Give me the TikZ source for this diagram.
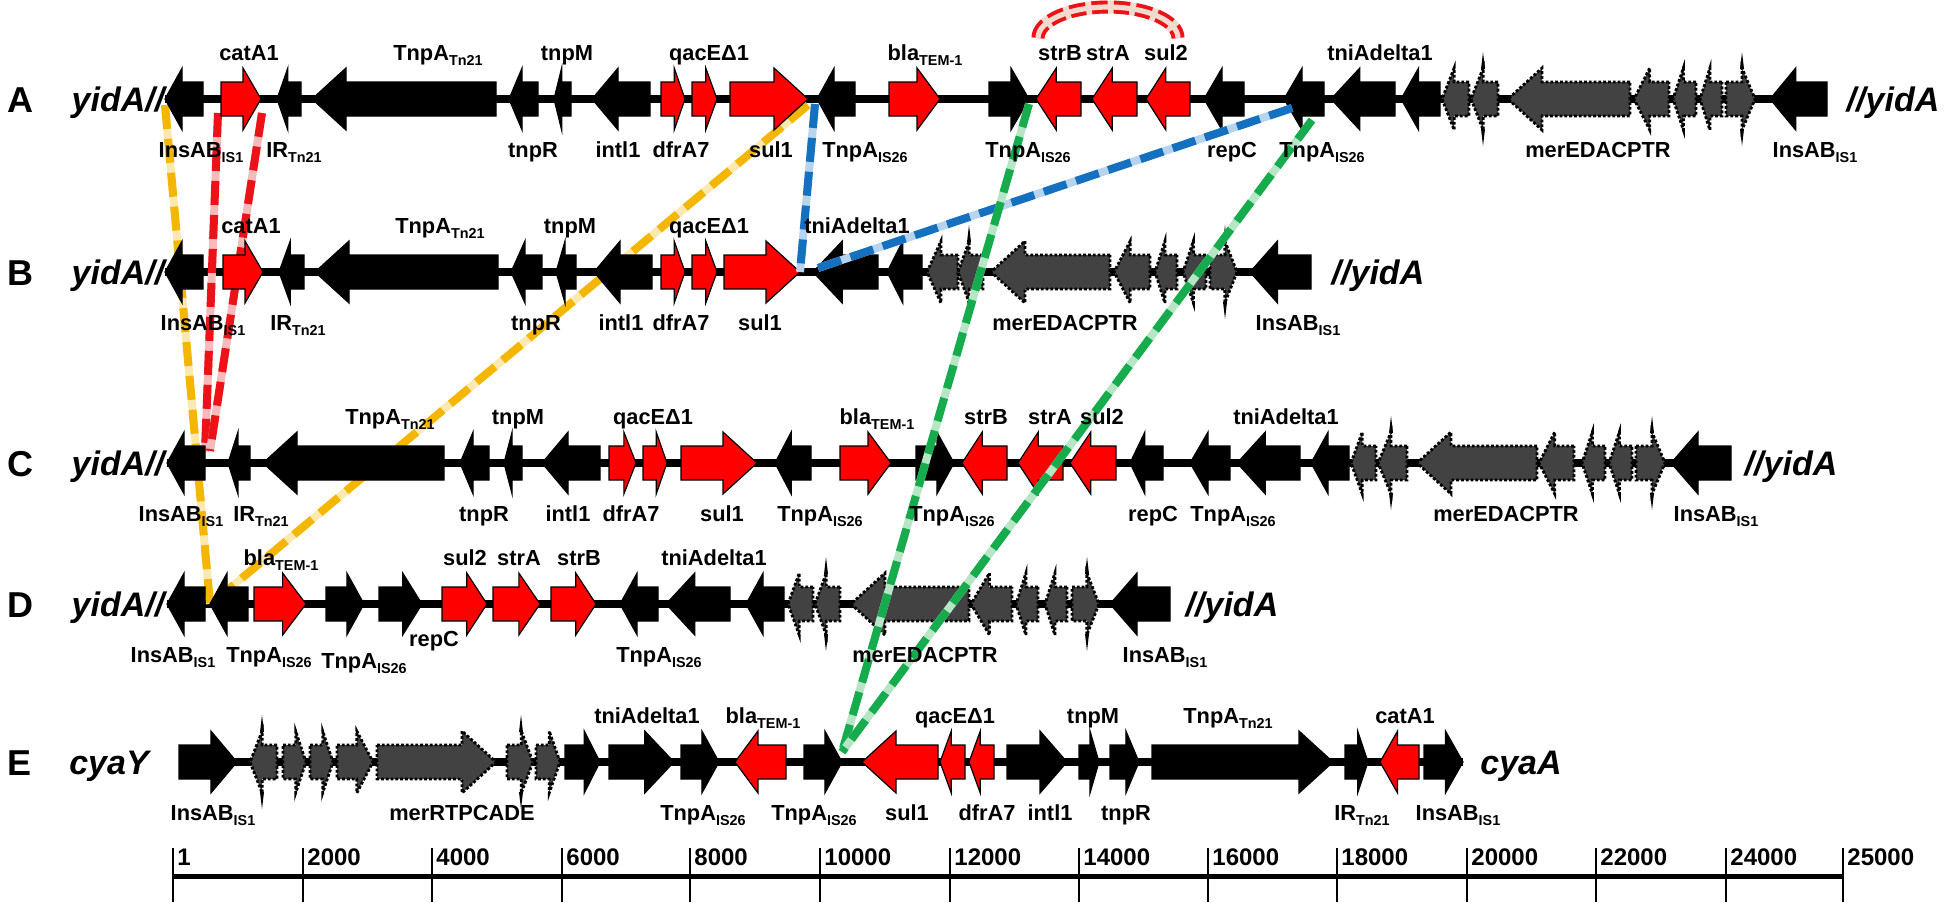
\documentclass[tikz,border=0pt]{standalone}
\usepackage{fontspec}
\setmainfont{Liberation Sans}
\usetikzlibrary{calc}
\pgfdeclarelayer{background}
\pgfsetlayers{background,main}

\definecolor{genered}{RGB}{255,0,0}
\definecolor{mergray}{RGB}{66,66,66}
\definecolor{linkyel}{RGB}{245,182,0}
\definecolor{linkyelpale}{RGB}{252,233,175}
\definecolor{linkred}{RGB}{236,18,24}
\definecolor{linkredpale}{RGB}{246,186,186}
\definecolor{linkblue}{RGB}{22,112,192}
\definecolor{linkbluepale}{RGB}{182,212,238}
\definecolor{linkgreen}{RGB}{22,172,78}
\definecolor{linkgreenpale}{RGB}{182,230,198}
\definecolor{arcpale}{RGB}{242,218,204}

\newcommand{\lsub}[1]{\raisebox{-0.45ex}{\fontsize{7.2}{8}\selectfont #1}}
% one gene arrow: name, tail x, tip x, row y, style
\newcommand{\gene}[5]{%
  \pgfmathsetmacro\genelen{#3-#2}%
  \pgfmathsetmacro\headlen{min(34,0.45*abs(\genelen))*sign(\genelen)}%
  \pgfmathsetmacro\headbase{#3-\headlen}%
  \filldraw[#5] (#2,#4-17) -- (\headbase,#4-17) -- (\headbase,#4-31) -- (#3,#4)
    -- (\headbase,#4+31) -- (\headbase,#4+17) -- (#2,#4+17) -- cycle;
  \coordinate (#1-t) at (#2,#4);
  \coordinate (#1-h) at (#3,#4);
}
% thin spikes at the head base of some mer genes
\newcommand{\spike}[2]{%
  \fill[black] (#1-2,#2-30) -- (#1,#2-47) -- (#1+2,#2-30) -- cycle;
  \fill[black] (#1-2,#2+30) -- (#1,#2+47) -- (#1+2,#2+30) -- cycle;
}

\tikzset{
  gblk/.style={fill=black, draw=black, line width=0.6pt},
  gred/.style={fill=genered, draw=black, line width=0.6pt},
  gmer/.style={fill=mergray, draw=black, densely dotted, line width=1.4pt},
  backbone/.style={line width=4pt},
  lab/.style={font=\fontsize{10.9}{12}\selectfont\bfseries, inner sep=0pt, anchor=base},
  rowid/.style={font=\fontsize{18}{20}\selectfont\bfseries, inner sep=0pt, anchor=base},
  rowend/.style={font=\fontsize{17}{20}\selectfont\bfseries\itshape, inner sep=0pt, anchor=base},
  tick/.style={font=\fontsize{12}{14}\selectfont\bfseries, inner sep=0pt, anchor=base west},
  link/.style={line width=4pt, dash pattern=on 12pt off 5pt},
  ylink/.style={link, draw=linkyel, preaction={draw=linkyelpale, solid, line width=4pt}},
  rlink/.style={link, draw=linkred, preaction={draw=linkredpale, solid, line width=4pt}},
  blink/.style={link, draw=linkblue, preaction={draw=linkbluepale, solid, line width=4pt}},
  glink/.style={link, draw=linkgreen, preaction={draw=linkgreenpale, solid, line width=4pt}},
  arcband/.style={line width=6.5pt, draw=linkred, dash pattern=on 8pt off 3pt,
    preaction={draw=arcpale, solid, line width=6.5pt},
    postaction={draw=arcpale, solid, line width=2.6pt}},
}

\begin{document}
\begin{tikzpicture}[x=0.5pt, y=-0.5pt]
\useasboundingbox (0,0) rectangle (1946,902);

% backbones
\begin{pgfonlayer}{background}
  \draw[backbone] (165,99) -- (1827,99);
  \draw[backbone] (165,272) -- (1311,272);
  \draw[backbone] (167,463) -- (1731,463);
  \draw[backbone] (167,604) -- (1170,604);
  \draw[backbone] (179,762) -- (1463,762);
\end{pgfonlayer}

% row A
\foreach \gn/\gt/\gh/\gs in {a1/203/165/gblk, a2/221/261/gred, a3/301/277/gblk,
    a4/496/312/gblk, a5/538/509/gblk, a6/571/554/gblk, a7/650/592/gblk,
    a8/661/685/gred, a9/692/717/gred, a10/730/808/gred, a11/855/817/gblk,
    a12/889/940/gred, a13/989/1029/gblk, a14/1081/1036/gred, a15/1137/1092/gred,
    a16/1190/1146/gred, a17/1244/1204/gblk, a18/1324/1284/gblk, a19/1395/1331/gblk,
    a20/1440/1401/gblk, am1/1469/1442/gmer, am2/1498/1471/gmer, am3/1630/1508/gmer,
    am4/1669/1634/gmer, am5/1696/1673/gmer, am6/1722/1700/gmer, am7/1726/1755/gmer,
    a21/1827/1770/gblk}
  {\gene{\gn}{\gt}{\gh}{99}{\gs}}

% row B
\foreach \gn/\gt/\gh/\gs in {b1/203/165/gblk, b2/223/263/gred, b3/304/279/gblk,
    b4/498/315/gblk, b5/542/511/gblk, b6/576/556/gblk, b7/652/594/gblk,
    b8/661/685/gred, b9/692/717/gred, b10/724/800/gred, b11/878/813/gblk,
    b12/922/887/gblk, bm1/958/927/gmer, bm2/983/958/gmer, bm3/1110/991/gmer,
    bm4/1150/1114/gmer, bm5/1177/1155/gmer, bm6/1206/1183/gmer, bm7/1210/1237/gmer,
    b13/1311/1250/gblk}
  {\gene{\gn}{\gt}{\gh}{272}{\gs}}

% row C
\foreach \gn/\gt/\gh/\gs in {c1/205/167/gblk, c2/250/228/gblk, c3/444/263/gblk,
    c4/489/460/gblk, c5/522/504/gblk, c6/600/542/gblk, c7/609/636/gred,
    c8/643/667/gred, c9/681/757/gred, c10/811/775/gblk, c11/840/891/gred,
    c12/916/954/gblk, c13/1007/962/gred, c14/1063/1018/gred, c15/1116/1070/gred,
    c16/1163/1130/gblk, c17/1230/1190/gblk, c18/1300/1237/gblk, c19/1349/1311/gblk,
    cm1/1376/1351/gmer, cm2/1407/1378/gmer, cm3/1537/1417/gmer, cm4/1574/1539/gmer,
    cm5/1605/1582/gmer, cm6/1632/1609/gmer, cm7/1636/1665/gmer, c20/1731/1671/gblk}
  {\gene{\gn}{\gt}{\gh}{463}{\gs}}

% row D
\foreach \gn/\gt/\gh/\gs in {d1/205/167/gblk, d2/248/210/gblk, d3/254/306/gred,
    d4/326/364/gblk, d5/379/422/gblk, d6/442/487/gred, d7/493/540/gred,
    d8/551/596/gred, d9/658/620/gblk, d10/730/666/gblk, d11/784/746/gblk,
    dm1/813/788/gmer, dm2/840/815/gmer, dm3/969/851/gmer, dm4/1012/971/gmer,
    dm5/1038/1016/gmer, dm6/1067/1045/gmer, dm7/1072/1099/gmer, d12/1170/1110/gblk}
  {\gene{\gn}{\gt}{\gh}{604}{\gs}}

% row E
\foreach \gn/\gt/\gh/\gs in {e1/179/237/gblk, em1/277/250/gmer, em2/283/306/gmer,
    em3/310/333/gmer, em4/337/373/gmer, em5/377/496/gmer, em6/507/533/gmer,
    em7/536/560/gmer, e2/565/600/gblk, e3/609/674/gblk, e4/681/719/gblk,
    e5/786/735/gred, e6/804/842/gblk, e7/938/862/gred, e8/965/940/gred,
    e9/994/969/gred, e10/1007/1067/gblk, e11/1079/1099/gblk, e12/1110/1139/gblk,
    e13/1152/1333/gblk, e14/1345/1368/gblk, e15/1419/1380/gred, e16/1424/1463/gblk}
  {\gene{\gn}{\gt}{\gh}{762}{\gs}}

\foreach \kx/\ky in {1483/99, 1742/99, 969/272, 1225/272, 1391/463, 1652/463,
    826/604, 1087/604, 262/762, 521/762}
  {\spike{\kx}{\ky}}

% links behind the genes
\begin{pgfonlayer}{background}
  \draw[ylink] ($(a1-h)+(0,6)$) -- (d2-h);
  \draw[ylink] ($(a10-h)+(0,6)$) -- ($(d2-h)+(20,-16)$);
  \draw[rlink] ($(a2-t)+(-3,14)$) -- ($(c1-t)+(0,-11)$);
  \draw[rlink] ($(a2-h)+(1,14)$) -- ($(c1-t)+(5,-12)$);
\end{pgfonlayer}
% links in front
\draw[blink] ($(a10-h)+(7,5)$) -- (b10-h);
\draw[blink] ($(a18-h)+(8,9)$) -- ($(b11-h)+(5,-4)$);
\draw[glink] ($(a13-h)+(0,5)$) -- ($(e6-h)+(0,-10)$);
\draw[glink] ($(a18-h)+(28,21)$) -- ($(e6-h)+(0,-10)$);

% sul2 / strA / strB block
\draw[arcband] (1038,38) arc[start angle=180, end angle=360, x radius=70, y radius=31];

% labels
\foreach \lx/\lt [count=\i] in {249/catA1, 438/{TnpA\lsub{Tn21}}, 567/tnpM, 709/qacEΔ1,
    925/{bla\lsub{TEM-1}}, 1060/strB, 1108/strA, 1166/sul2, 1380/tniAdelta1}
  \node[lab] (aU\i) at (\lx,60) {\lt};
\foreach \lx/\lt [count=\i] in {201/{InsAB\lsub{IS1}}, 294/{IR\lsub{Tn21}}, 533/tnpR,
    618/intl1, 681/dfrA7, 771/sul1, 865/{TnpA\lsub{IS26}}, 1028/{TnpA\lsub{IS26}},
    1232/repC, 1322/{TnpA\lsub{IS26}}, 1598/merEDACPTR, 1815/{InsAB\lsub{IS1}}}
  \node[lab] (aL\i) at (\lx,157) {\lt};

\foreach \lx/\lt [count=\i] in {251/catA1, 440/{TnpA\lsub{Tn21}}, 570/tnpM, 709/qacEΔ1,
    857/tniAdelta1}
  \node[lab] (bU\i) at (\lx,233) {\lt};
\foreach \lx/\lt [count=\i] in {203/{InsAB\lsub{IS1}}, 298/{IR\lsub{Tn21}}, 536/tnpR,
    621/intl1, 681/dfrA7, 760/sul1, 1065/merEDACPTR, 1298/{InsAB\lsub{IS1}}}
  \node[lab] (bL\i) at (\lx,330) {\lt};

\foreach \lx/\lt [count=\i] in {390/{TnpA\lsub{Tn21}}, 518/tnpM, 653/qacEΔ1,
    877/{bla\lsub{TEM-1}}, 986/strB, 1050/strA, 1102/sul2, 1286/tniAdelta1}
  \node[lab] (cU\i) at (\lx,424) {\lt};
\foreach \lx/\lt [count=\i] in {181/{InsAB\lsub{IS1}}, 261/{IR\lsub{Tn21}}, 484/tnpR,
    568/intl1, 631/dfrA7, 722/sul1, 820/{TnpA\lsub{IS26}}, 952/{TnpA\lsub{IS26}},
    1153/repC, 1233/{TnpA\lsub{IS26}}, 1506/merEDACPTR, 1716/{InsAB\lsub{IS1}}}
  \node[lab] (cL\i) at (\lx,521) {\lt};

\foreach \lx/\lt [count=\i] in {281/{bla\lsub{TEM-1}}, 465/sul2, 519/strA, 579/strB,
    714/tniAdelta1}
  \node[lab] (dU\i) at (\lx,565) {\lt};
\foreach \lx/\lt [count=\i] in {173/{InsAB\lsub{IS1}}, 269/{TnpA\lsub{IS26}},
    659/{TnpA\lsub{IS26}}, 925/merEDACPTR, 1165/{InsAB\lsub{IS1}}}
  \node[lab] (dL\i) at (\lx,662) {\lt};
\node[lab] (dL6) at (364,668) {TnpA\lsub{IS26}};
\node[lab] (dL7) at (434,646) {repC};

\foreach \lx/\lt [count=\i] in {647/tniAdelta1, 763/{bla\lsub{TEM-1}}, 955/qacEΔ1,
    1093/tnpM, 1228/{TnpA\lsub{Tn21}}, 1405/catA1}
  \node[lab] (eU\i) at (\lx,723) {\lt};
\foreach \lx/\lt [count=\i] in {213/{InsAB\lsub{IS1}}, 462/merRTPCADE,
    703/{TnpA\lsub{IS26}}, 814/{TnpA\lsub{IS26}}, 907/sul1, 987/dfrA7, 1050/intl1,
    1126/tnpR, 1362/{IR\lsub{Tn21}}, 1458/{InsAB\lsub{IS1}}}
  \node[lab] (eL\i) at (\lx,820) {\lt};

% row names and flanking genes
\foreach \r/\ry/\rl in {A/99/A, B/272/B, C/463/C, D/604/D, E/762/E}
  \node[rowid] (row\r) at (20,\ry+13) {\rl};
\node[rowend] (ylA) at (118,111) {yidA//};
\node[rowend] (yrA) at (1893,111) {//yidA};
\node[rowend] (ylB) at (118,284) {yidA//};
\node[rowend] (yrB) at (1378,284) {//yidA};
\node[rowend] (ylC) at (118,475) {yidA//};
\node[rowend] (yrC) at (1791,475) {//yidA};
\node[rowend] (ylD) at (118,616) {yidA//};
\node[rowend] (yrD) at (1232,616) {//yidA};
\node[rowend] (cyY) at (109,774) {cyaY};
\node[rowend] (cyA) at (1521,774) {cyaA};

% scale
\draw[line width=2.5pt] (173,876) -- (1843,876);
\foreach \sx/\sl [count=\i] in {173/1, 303/2000, 432/4000, 562/6000, 690/8000,
    820/10000, 950/12000, 1079/14000, 1208/16000, 1337/18000, 1467/20000,
    1596/22000, 1726/24000, 1843/25000}
{
  \draw[line width=1pt] (\sx,848) -- (\sx,902);
  \node[tick] (s\i) at (\sx+4,865) {\sl};
}
\end{tikzpicture}
\end{document}
